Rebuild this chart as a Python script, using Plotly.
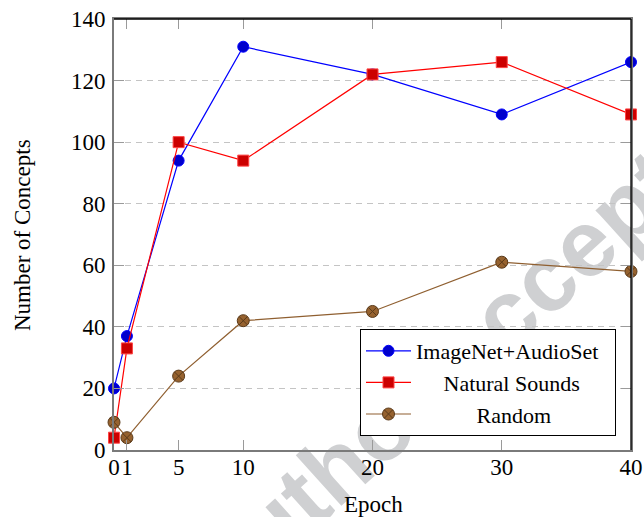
import plotly.graph_objects as go

epochs = [0, 1, 5, 10, 20, 30, 40]
imagenet_audioset = [20, 37, 94, 131, 122, 109, 126]
natural_sounds = [4, 33, 100, 94, 122, 126, 109]
random_init = [9, 4, 24, 42, 45, 61, 58]
x_ticks = [0, 1, 5, 10, 20, 30, 40]
y_ticks = [0, 20, 40, 60, 80, 100, 120, 140]

FONT = "Liberation Serif"
FS = 23
NB = "\u00a0"

fig = go.Figure()
fig.add_trace(go.Scatter(
    x=epochs, y=imagenet_audioset, mode="lines+markers", name="ImageNet+AudioSet" + NB * 2,
    legendgroup="a", cliponaxis=False,
    line=dict(color="#0000ff", width=1.2),
    marker=dict(symbol="circle", size=11, color="#0000cc", line=dict(color="#0000ff", width=1))))
fig.add_trace(go.Scatter(
    x=epochs, y=natural_sounds, mode="lines+markers", name=NB * 5 + "Natural Sounds",
    legendgroup="b", cliponaxis=False,
    line=dict(color="#ff0000", width=1.2),
    marker=dict(symbol="square", size=11, color="#cc0000", line=dict(color="#ff4444", width=1))))
fig.add_trace(go.Scatter(
    x=epochs, y=random_init, mode="lines+markers", name=NB * 11 + "Random",
    legendgroup="c", cliponaxis=False,
    line=dict(color="#8f5f30", width=1.2),
    marker=dict(symbol="circle-x", size=12, color="#96622f", line=dict(color="#5a3a1a", width=1))))

L, R, T, B = 114, 13, 19, 67
W, H = 644, 517
pw, ph = W - L - R, H - T - B

def px(xp):
    return (xp - L) / pw

def py(yp):
    return (H - B - yp) / ph

# watermark (behind everything)
cx, cy = 468, 336
dx, dy = 0.743 * 100, -0.669 * 100
fig.add_shape(type="line", xref="paper", yref="paper", layer="below",
              x0=px(cx - dx), y0=py(cy - dy), x1=px(cx + dx), y1=py(cy + dy),
              line=dict(color="rgba(0,0,0,0)", width=0),
              label=dict(text="Author accepted", textposition="middle", textangle=-42,
                         yanchor="middle",
                         font=dict(family="Liberation Sans", size=94, color="#cfd0d2", weight="bold")))

# top and right frame lines (black)
fig.add_shape(type="line", xref="paper", yref="paper", x0=0, x1=1, y0=1, y1=1,
              line=dict(color="black", width=1.3), layer="above")
fig.add_shape(type="line", xref="paper", yref="paper", x0=1, x1=1, y0=0, y1=1,
              line=dict(color="black", width=1.3), layer="above")

axis_common = dict(
    showline=True, linecolor="#7a7a7a", linewidth=2, mirror="ticks",
    ticks="inside", ticklen=10, tickwidth=1, tickcolor="#9a9a9a",
    zeroline=False, automargin=False, tickangle=0,
    tickfont=dict(family=FONT, size=FS, color="black"),
)

fig.update_xaxes(range=[0, 40], tickvals=x_ticks, ticktext=[str(v) for v in x_ticks],
                 showgrid=False, ticklabelstandoff=-5, **axis_common)
fig.update_yaxes(range=[0, 140], tickvals=y_ticks, ticktext=[str(v) for v in y_ticks],
                 showgrid=True, gridcolor="#c4c4c4", gridwidth=1.2, griddash="6px,5px",
                 ticklabelstandoff=2, **axis_common)

fig.add_annotation(text="Epoch", xref="paper", yref="paper", x=px(373.5), y=py(505),
                   xanchor="center", yanchor="middle", showarrow=False,
                   font=dict(family=FONT, size=FS, color="black"))
fig.add_annotation(text="Number of Concepts", xref="paper", yref="paper", x=px(22), y=py(235),
                   xanchor="center", yanchor="middle", showarrow=False, textangle=-90,
                   font=dict(family=FONT, size=FS, color="black"))

fig.update_layout(
    width=W, height=H,
    margin=dict(l=L, r=R, t=T, b=B, pad=0, autoexpand=False),
    paper_bgcolor="white", plot_bgcolor="rgba(0,0,0,0)",
    font=dict(family=FONT, size=FS, color="black"),
    showlegend=True,
    legend=dict(x=px(616), y=py(436), xanchor="right", yanchor="bottom",
                bgcolor="white", bordercolor="black", borderwidth=1,
                font=dict(family=FONT, size=22, color="black"),
                traceorder="grouped", tracegroupgap=0, itemwidth=45),
)

fig.write_html("out.html")
